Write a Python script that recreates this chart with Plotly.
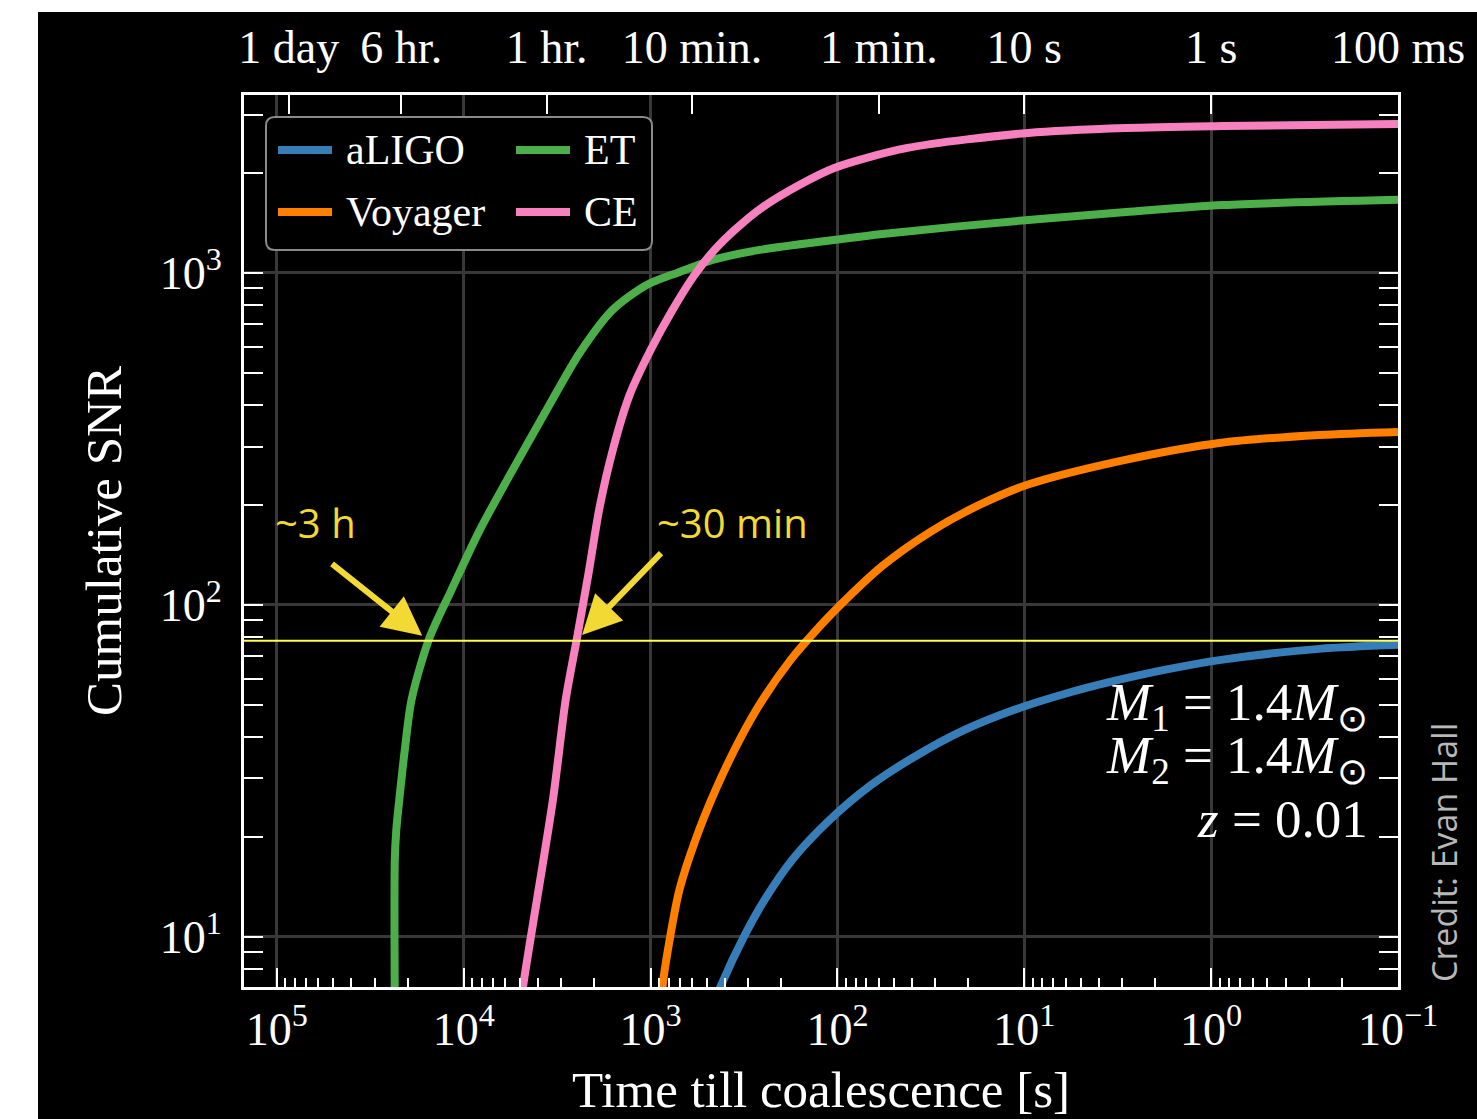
import numpy as np
import plotly.graph_objects as go

# Cumulative SNR accumulated before merger for a 1.4+1.4 Msun binary at z = 0.01
# time till coalescence [s] and cumulative SNR for each detector
aligo_t = [496, 423, 314, 246, 174, 110, 65.8, 37.3, 20.9, 11.3, 6.11, 3.30, 1.78, 0.884, 0.265, 0.1]
aligo_snr = [5.62, 7.07, 10.1, 12.9, 17.1, 22.5, 28.7, 35.3, 42.0, 48.3, 53.9, 59.0, 63.7, 68.3, 73.7, 75.8]

voyager_t = [873, 863, 791, 700, 575, 449, 334, 252, 178, 134, 98.8, 57.5, 31.8, 17.4, 9.64,
             2.92, 0.884, 0.265, 0.1]
voyager_snr = [5.25, 7.07, 9.79, 13.9, 19.6, 27.7, 39.2, 51.7, 68.3, 82.3, 98.6, 131, 166, 200, 230,
               273, 308, 325, 332]

et_t = [23390, 23390, 22960, 22130, 20680, 19040, 15390, 11630, 8210, 5470, 3600, 2397, 1597,
        1050, 700, 466, 261, 104, 57.5, 9.52, 2.85, 0.863, 0.1]
et_snr = [6.0, 17.1, 21.0, 25.9, 36.6, 51.7, 78.5, 111, 168, 255, 387, 574, 774,
          920, 1007, 1094, 1173, 1257, 1311, 1444, 1526, 1602, 1660]

ce_t = [5143, 4818, 3331, 2848, 2487, 2146, 1874, 1578, 1295, 1000, 763, 582, 455, 355, 255,
        160, 104, 42.2, 9.52, 2.85, 0.863, 0.1]
ce_snr = [5.25, 7.07, 25.9, 51.7, 78.5, 125, 197, 299, 429, 586, 774, 986, 1173, 1347, 1570,
          1841, 2072, 2380, 2641, 2734, 2772, 2811]

series_names = ["aLIGO", "Voyager", "ET", "CE"]
series_colors = ["#377eb8", "#ff7f00", "#4daf4a", "#f781bf"]
series_t = [aligo_t, voyager_t, et_t, ce_t]
series_snr = [aligo_snr, voyager_snr, et_snr, ce_snr]

threshold_snr = 78

# bottom axis decades
x_decades = [1e5, 1e4, 1e3, 1e2, 1e1, 1e0, 1e-1]
x_decade_labels = ["10<sup>5</sup>", "10<sup>4</sup>", "10<sup>3</sup>", "10<sup>2</sup>",
                   "10<sup>1</sup>", "10<sup>0</sup>", "10<sup>\u22121</sup>"]
# top axis: human-readable times
time_marks = [86400, 21600, 3600, 600, 60, 10, 1, 0.1]
time_labels = ["1 day", "6 hr.", "1 hr.", "10 min.", "1 min.", "10 s", "1 s", "100 ms"]
# left axis decades
y_decades = [10, 100, 1000]
y_decade_labels = ["10<sup>1</sup>", "10<sup>2</sup>", "10<sup>3</sup>"]

x_lo, x_hi = 1.5e5, 0.1
y_lo, y_hi = 7.06, 3436

x_minor = [k * 10.0 ** n for n in range(-1, 6) for k in range(2, 10) if x_hi < k * 10.0 ** n < x_lo]
y_minor = [k * 10.0 ** n for n in range(0, 4) for k in range(2, 10) if y_lo < k * 10.0 ** n < y_hi]

W, H = 1477, 1119
L, R, T, B = 244, 1398, 95, 987


def px(x):
    return (x - L) / (R - L)


def py(y):
    return (B - y) / (B - T)


SERIF = "Liberation Serif"
SANS = "Open Sans"
YELLOW = "#f3d934"
GRID = "#383838"

fig = go.Figure()
for name, color, t, s in zip(series_names, series_colors, series_t, series_snr):
    fig.add_trace(go.Scatter(x=t, y=s, mode="lines", name=name,
                             line=dict(color=color, width=8, shape="spline", smoothing=0.8),
                             showlegend=False))

# detection threshold, drawn on the top time axis across the full range
fig.add_trace(go.Scatter(x=[x_lo, x_hi], y=[threshold_snr, threshold_snr], xaxis="x2",
                         mode="lines", line=dict(color="#ffff55", width=2),
                         showlegend=False, hoverinfo="skip"))


def crossing_time(t, s, level):
    lt, ls = np.log10(t), np.log10(s)
    order = np.argsort(ls)
    return 10 ** np.interp(np.log10(level), ls[order], lt[order])


t_et_cross = crossing_time(et_t, et_snr, threshold_snr)
t_ce_cross = crossing_time(ce_t, ce_snr, threshold_snr)

shapes = [
    # black page area
    dict(type="rect", xref="paper", yref="paper", x0=px(38), x1=px(W + 5), y0=py(H + 5), y1=py(12),
         fillcolor="black", line=dict(width=0), layer="below"),
]

# legend box with rounded corners
bx0, bx1, by0, by1 = px(266), px(652), py(250), py(117)
rx, ry = 9 / (R - L), 9 / (B - T)
box_path = (f"M{bx0 + rx},{by0} L{bx1 - rx},{by0} Q{bx1},{by0} {bx1},{by0 + ry} "
            f"L{bx1},{by1 - ry} Q{bx1},{by1} {bx1 - rx},{by1} "
            f"L{bx0 + rx},{by1} Q{bx0},{by1} {bx0},{by1 - ry} "
            f"L{bx0},{by0 + ry} Q{bx0},{by0} {bx0 + rx},{by0} Z")
shapes.append(dict(type="path", xref="paper", yref="paper", path=box_path,
                   fillcolor="black", line=dict(color="#8a8a8a", width=2), layer="above"))

annotations = []
legend_slots = {"aLIGO": (278, 150), "Voyager": (278, 212), "ET": (516, 150), "CE": (516, 212)}
for name, color in zip(series_names, series_colors):
    lx, ly = legend_slots[name]
    shapes.append(dict(type="line", xref="paper", yref="paper", x0=px(lx), x1=px(lx + 54),
                       y0=py(ly), y1=py(ly), line=dict(color=color, width=8), layer="above"))
    annotations.append(dict(xref="paper", yref="paper", x=px(lx + 66), y=py(ly), text=name,
                            showarrow=False, xanchor="left", yanchor="middle",
                            font=dict(family=SERIF, size=42, color="white")))

# arrows to the threshold crossings
annotations += [
    dict(x=np.log10(t_et_cross), y=np.log10(threshold_snr), xref="x", yref="y", text="",
         showarrow=True, ax=-98, ay=-78, arrowhead=2, arrowsize=1.3, arrowwidth=6,
         arrowcolor=YELLOW, standoff=8),
    dict(x=np.log10(t_ce_cross), y=np.log10(threshold_snr), xref="x", yref="y", text="",
         showarrow=True, ax=86, ay=-89, arrowhead=2, arrowsize=1.3, arrowwidth=6,
         arrowcolor=YELLOW, standoff=8),
    dict(xref="paper", yref="paper", x=px(273), y=py(522), text="~3 h", showarrow=False,
         xanchor="left", yanchor="middle", font=dict(family=SANS, size=40, color=YELLOW)),
    dict(xref="paper", yref="paper", x=px(655), y=py(522), text="~30 min", showarrow=False,
         xanchor="left", yanchor="middle", font=dict(family=SANS, size=40, color=YELLOW)),
]

# source parameters
for txt, yy in [("<i>M</i><sub>1</sub> = 1.4<i>M</i><sub>\u2299</sub>", 706),
                ("<i>M</i><sub>2</sub> = 1.4<i>M</i><sub>\u2299</sub>", 759),
                ("<i>z</i> = 0.01", 819)]:
    annotations.append(dict(xref="paper", yref="paper", x=px(1370), y=py(yy), text=txt,
                            showarrow=False, xanchor="right", yanchor="middle",
                            font=dict(family=SERIF, size=53, color="white")))

annotations.append(dict(xref="paper", yref="paper", x=px(1444), y=py(853), text="Credit: Evan Hall",
                        showarrow=False, textangle=-90, xanchor="center", yanchor="middle",
                        font=dict(family=SANS, size=34, color="#b8b8b8")))

xr = [np.log10(x_lo), np.log10(x_hi)]
yr = [np.log10(y_lo), np.log10(y_hi)]

fig.update_layout(
    width=W, height=H,
    margin=dict(l=L, r=W - R, t=T, b=H - B),
    paper_bgcolor="white", plot_bgcolor="black",
    showlegend=False,
    xaxis=dict(type="log", range=xr, tickmode="array", tickvals=x_decades, ticktext=x_decade_labels,
               ticks="inside", ticklen=19, tickwidth=2, tickcolor="white",
               showline=True, linecolor="white", linewidth=3, mirror=True,
               showgrid=True, gridcolor=GRID, gridwidth=3, zeroline=False, automargin=False,
               tickfont=dict(family=SERIF, size=46, color="white"),
               ticklabelstandoff=0,
               title=dict(text="Time till coalescence [s]", standoff=18,
                          font=dict(family=SERIF, size=51, color="white")),
               minor=dict(tickmode="array", tickvals=x_minor, ticks="inside", ticklen=9,
                          tickwidth=2, tickcolor="white", showgrid=False)),
    xaxis2=dict(type="log", range=xr, overlaying="x", side="top", anchor="y",
                tickmode="array", tickvals=time_marks, ticktext=time_labels,
                ticks="inside", ticklen=19, tickwidth=2, tickcolor="white",
                showgrid=False, showline=False, zeroline=False, automargin=False,
                tickfont=dict(family=SERIF, size=46, color="white"), ticklabelstandoff=22),
    yaxis=dict(type="log", range=yr, tickmode="array", tickvals=y_decades, ticktext=y_decade_labels,
               ticks="inside", ticklen=19, tickwidth=2, tickcolor="white",
               showline=True, linecolor="white", linewidth=3, mirror="allticks",
               showgrid=True, gridcolor=GRID, gridwidth=3, zeroline=False, automargin=False,
               tickfont=dict(family=SERIF, size=46, color="white"),
               ticklabelstandoff=10,
               title=dict(text="Cumulative SNR", standoff=22,
                          font=dict(family=SERIF, size=51, color="white")),
               minor=dict(tickmode="array", tickvals=y_minor, ticks="inside", ticklen=9,
                          tickwidth=2, tickcolor="white", showgrid=False)),
    shapes=shapes,
    annotations=annotations,
)

fig.write_html("out.html")
